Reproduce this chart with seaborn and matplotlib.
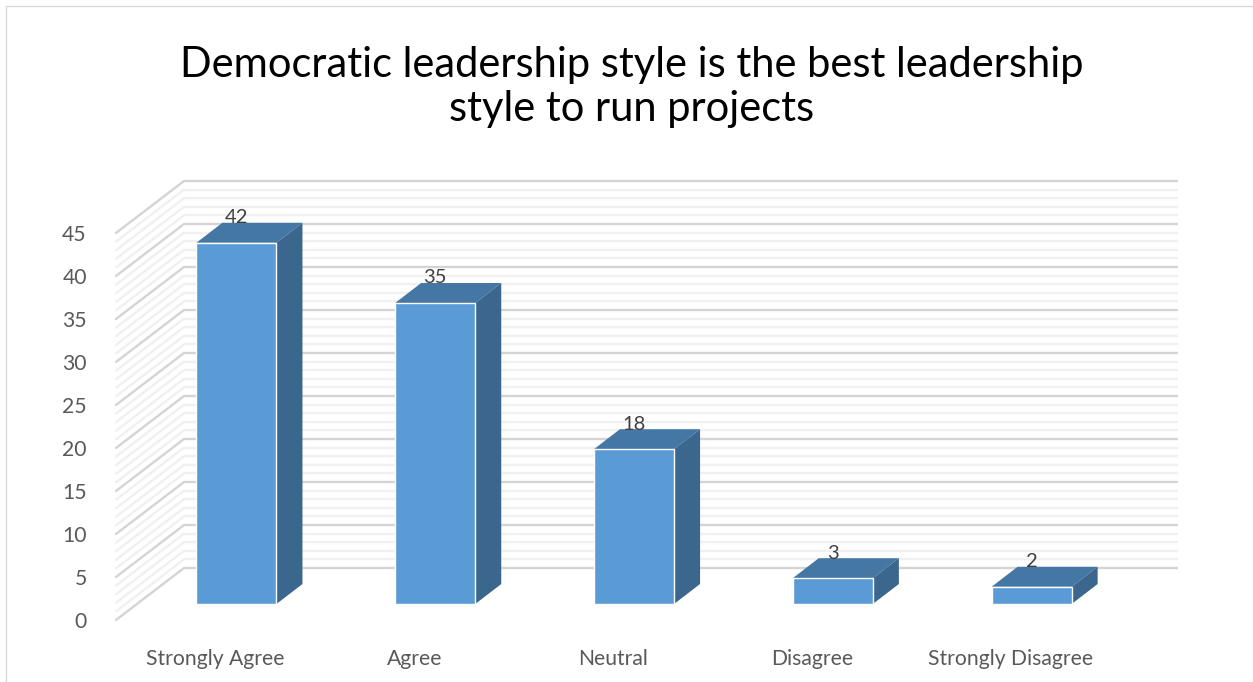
import matplotlib
matplotlib.use("Agg")
import matplotlib.pyplot as plt
from matplotlib.patches import Polygon, Rectangle
from matplotlib.lines import Line2D
from matplotlib.transforms import ScaledTranslation
import pandas as pd
import seaborn as sns

categories = ["Strongly Agree", "Agree", "Neutral", "Disagree", "Strongly Disagree"]
responses = [42, 35, 18, 3, 2]
title_text = "Democratic leadership style is the best leadership\nstyle to run projects"

W, H, DPI = 1253, 682, 100
sns.set_theme(style="white")
plt.rcParams["font.family"] = ["Lato", "DejaVu Sans"]

fig = plt.figure(figsize=(W / DPI, H / DPI), dpi=DPI, facecolor="white")
# The axes is the front plane of the 3D box; walls and bars are shifted from it in pixels.
ax = fig.add_axes([116 / W, 1 - 620 / H, 994 / W, 387 / H])
ax.patch.set_alpha(0)


def shift(dx, dy):
    """Data transform moved dx pixels right and dy pixels up."""
    return ax.transData + ScaledTranslation(dx / DPI, dy / DPI, fig.dpi_scale_trans)


frame = pd.DataFrame({"category": categories, "responses": responses})
sns.barplot(data=frame, x="category", y="responses", color="#5B9BD5", saturation=1,
            width=0.403, ax=ax, zorder=5)
ax.set_xlim(-0.5, 4.5)
ax.set_ylim(0, 45)
ax.set_xlabel("")
ax.set_ylabel("")
ax.set_yticks(range(0, 46, 5))
sns.despine(ax=ax, left=True, bottom=True)
ax.tick_params(axis="y", length=0, pad=21, labelsize=15.2, labelcolor="#595959")
ax.tick_params(axis="x", length=0, pad=21, labelsize=15.2, labelcolor="#595959")

# Back wall and side wall gridlines: every unit, heavier on the labelled ticks.
BACK = (68, 52)
for level in range(0, 46):
    major = level % 5 == 0
    color = "#D4D4D4" if major else "#F0F0F0"
    lw = 1.7 if major else 1.7
    z = 2 if major else 1
    ax.add_line(Line2D([-0.5, 4.5], [level, level], color=color, lw=lw, zorder=z,
                       transform=shift(*BACK), clip_on=False, solid_capstyle="butt"))
    side = Line2D([0, BACK[0]], [0, BACK[1]], color=color, lw=lw, zorder=z, clip_on=False,
                  transform=ScaledTranslation(*ax.transData.transform((-0.5, level)), None)
                  if False else None)
    side.set_transform(matplotlib.transforms.Affine2D().translate(
        *ax.transData.transform((-0.5, level))))
    ax.add_line(side)

# Each bar sits partway into the box, with a darker top and side face.
BAR_SHIFT = (21, 16)
DEPTH = (26, 20)
for bar, value in zip(list(ax.patches), responses):
    bar.set_transform(shift(*BAR_SHIFT))
    x0, x1 = bar.get_x(), bar.get_x() + bar.get_width()
    a = ax.transData.transform((x0, 0))
    b = ax.transData.transform((x1, value))
    l, r = a[0] + BAR_SHIFT[0], b[0] + BAR_SHIFT[0]
    bot, top = a[1] + BAR_SHIFT[1], b[1] + BAR_SHIFT[1]
    dx, dy = DEPTH
    px = matplotlib.transforms.IdentityTransform()
    ax.add_patch(Polygon([(l, top), (r, top), (r + dx, top + dy), (l + dx, top + dy)],
                         closed=True, fc="#4577A5", ec="none", transform=px, zorder=4, clip_on=False))
    ax.add_patch(Polygon([(r, bot), (r, top), (r + dx, top + dy), (r + dx, bot + dy)],
                         closed=True, fc="#3B668D", ec="none", transform=px, zorder=4, clip_on=False))
    ax.text((x0 + x1) / 2, value, str(value), ha="center", va="center", fontsize=14.5,
            color="#404040", zorder=6, transform=shift(21, 41))

fig.text(632 / W, 1 - 87 / H, title_text, ha="center", va="center", fontsize=30,
         color="black", linespacing=1.18)

# Chart frame along the top and left edges.
fig.add_artist(Rectangle((6 / W, -0.02), 1.2, 1 - 5.5 / H + 0.02, transform=fig.transFigure,
                         fill=False, ec="#D9D9D9", lw=1))

fig.savefig("out.png", dpi=DPI)
